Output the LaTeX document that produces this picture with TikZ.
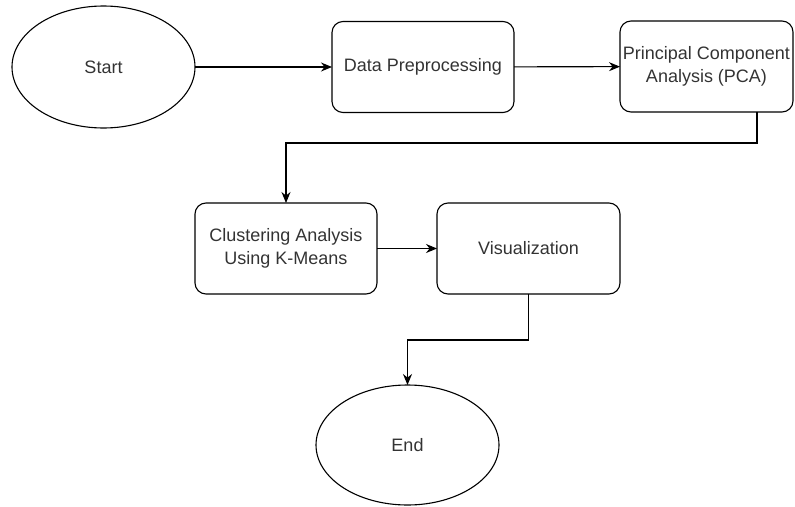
\documentclass[tikz,border=0pt]{standalone}
\usepackage{fontspec}
\setmainfont{Liberation Sans}
\usepackage{tikz}
\usetikzlibrary{shapes.geometric,arrows.meta,positioning}

\begin{document}
\begin{tikzpicture}[
      x=1pt,y=-1pt,
      term/.style={draw,ellipse,line width=1.1pt,inner sep=0pt,outer sep=0pt,
                   minimum width=183pt,minimum height=122pt,text=black!80,
                   font=\fontsize{18}{23}\selectfont},
      proc/.style={draw,rounded corners=11pt,line width=1.1pt,inner sep=0pt,
                   outer sep=0pt,minimum width=182pt,minimum height=91pt,
                   align=center,text=black!80,font=\fontsize{18}{23}\selectfont},
      arr/.style={-{Stealth[length=11pt,width=9pt]},line width=1.1pt},
  ]
  \useasboundingbox (0,0) rectangle (795,506);

  %--- top row ---
  \node[term] (Start) at (103.5,67) {Start};
  \node[proc] (Prep) at (423,67) {Data Preprocessing};
  \node[proc,minimum width=173pt] (PCA) at (706.5,66.5)
       {Principal Component\\Analysis (PCA)};

  \draw[arr] (Start) -- (Prep);
  \draw[arr] (Prep) -- (PCA);

  %--- middle row ---
  \node[proc] (Clust) at (286,248.5) {Clustering Analysis\\Using K-Means};
  \node[proc,minimum width=183pt] (Vis) at (528.5,248.5) {Visualization};

  \draw[arr] ([xshift=50.5pt]PCA.south) -- ++(0,31) -| (Clust.north);
  \draw[arr] (Clust) -- (Vis);

  %--- end ---
  \node[term,minimum height=120pt] (End) at (407.5,445) {End};
  \draw[arr] (Vis.south) -- ++(0,46) -| (End.north);
\end{tikzpicture}
\end{document}
